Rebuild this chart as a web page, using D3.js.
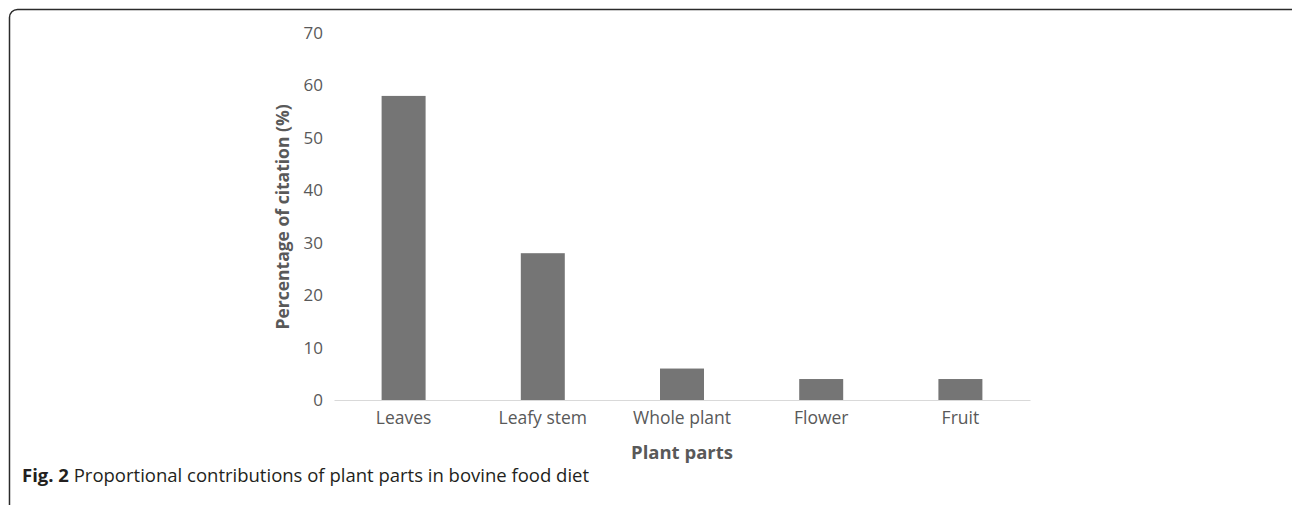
<!DOCTYPE html>
<html>
<head>
<meta charset="utf-8">
<script src="https://d3js.org/d3.v7.min.js"></script>
<style>
  body { margin: 0; background: #fff; }
  svg { display: block; }
</style>
</head>
<body>
<svg id="chart" width="1292" height="505"></svg>
<script>
// data
var parts = ["Leaves", "Leafy stem", "Whole plant", "Flower", "Fruit"];
var citation = [58, 28, 6, 4, 4];
var yTicks = [0, 10, 20, 30, 40, 50, 60, 70];

var svg = d3.select("#chart");
var font = "'Open Sans', 'Segoe UI', sans-serif";

// frame (bottom edge runs off the picture)
svg.append("rect")
    .attr("x", 9.5)
    .attr("y", 9.5)
    .attr("width", 1290)
    .attr("height", 520)
    .attr("rx", 8)
    .attr("fill", "none")
    .attr("stroke", "#2b2b2b")
    .attr("stroke-width", 1.5);

var x = d3.scaleBand()
    .domain(parts)
    .range([334, 1030])
    .paddingInner(0.684)
    .paddingOuter(0.342);

var y = d3.scaleLinear()
    .domain([0, 70])
    .range([400, 33]);

// y axis (labels only)
var yAxis = svg.append("g")
    .attr("transform", "translate(334,0)")
    .call(d3.axisLeft(y).tickValues(yTicks).tickSize(0).tickPadding(11));
yAxis.select(".domain").remove();
yAxis.selectAll("text")
    .style("font-family", font)
    .style("font-size", "17px")
    .attr("fill", "#595959");

// bars
svg.selectAll(".bar")
    .data(parts)
    .enter()
    .append("rect")
    .attr("class", "bar")
    .attr("x", function(d) { return x(d); })
    .attr("y", function(d, i) { return y(citation[i]); })
    .attr("width", x.bandwidth())
    .attr("height", function(d, i) { return y(0) - y(citation[i]); })
    .attr("fill", "#757575");

// x axis
var xAxis = svg.append("g")
    .attr("transform", "translate(0,400)")
    .call(d3.axisBottom(x).tickSize(0).tickPadding(12));
xAxis.select(".domain")
    .attr("stroke", "#d9d9d9")
    .attr("stroke-width", 1.2);
xAxis.selectAll("text")
    .style("font-family", font)
    .style("font-size", "17.5px")
    .attr("fill", "#595959");

// axis titles
svg.append("text")
    .attr("transform", "translate(289,217) rotate(-90)")
    .attr("text-anchor", "middle")
    .style("font-family", font)
    .style("font-size", "17.5px")
    .style("font-weight", "bold")
    .attr("fill", "#595959")
    .text("Percentage of citation (%)");

svg.append("text")
    .attr("x", 682)
    .attr("y", 459)
    .attr("text-anchor", "middle")
    .style("font-family", font)
    .style("font-size", "18.5px")
    .style("font-weight", "bold")
    .attr("fill", "#595959")
    .text("Plant parts");

// caption
var caption = svg.append("text")
    .attr("x", 22)
    .attr("y", 482)
    .style("font-family", font)
    .style("font-size", "18.5px")
    .attr("fill", "#231f20");
caption.append("tspan")
    .style("font-weight", "bold")
    .text("Fig. 2");
caption.append("tspan")
    .text(" Proportional contributions of plant parts in bovine food diet");
</script>
</body>
</html>
